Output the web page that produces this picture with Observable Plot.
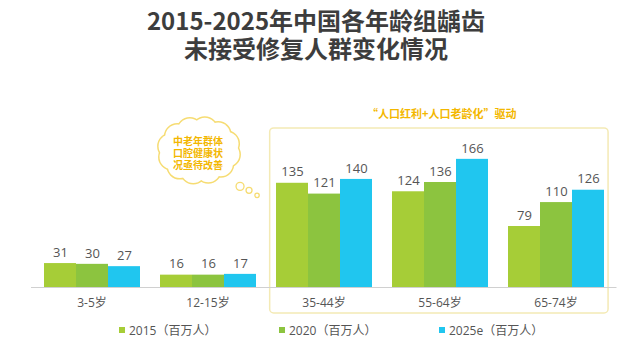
<!DOCTYPE html>
<html><head><meta charset="utf-8">
<script src="https://cdn.jsdelivr.net/npm/d3@7"></script>
<script src="https://cdn.jsdelivr.net/npm/@observablehq/plot@0.6"></script>
<style>
html,body{margin:0;padding:0;background:#fff;}
#wrap{position:relative;width:638px;height:360px;overflow:hidden;font-family:"Open Sans","Noto Sans CJK SC",sans-serif;}
.tl{position:absolute;left:0;width:632px;text-align:center;font-family:"Noto Sans CJK SC",sans-serif;font-weight:700;font-size:24px;line-height:26px;height:26px;color:#3d3d3d;}
#legend{position:absolute;top:321px;left:0;width:638px;height:16px;font-size:12px;color:#555;}
.li{position:absolute;top:0;display:flex;align-items:center;white-space:nowrap;}
.sw{width:6px;height:6px;margin-right:4px;}
#chart{position:absolute;left:0;top:0;}
</style></head>
<body><div id="wrap">
<div id="chart"></div>
<div class="tl" style="top:7px">2015-2025年中国各年龄组龋齿</div>
<div class="tl" style="top:35px">未接受修复人群变化情况</div>
<div id="legend"></div>
</div>
<script>
const categories = ["3-5岁","12-15岁","35-44岁","55-64岁","65-74岁"];
const seriesNames = ["2015（百万人）","2020（百万人）","2025e（百万人）"];
const v2015 = [31,16,135,124,79];
const v2020 = [30,16,121,136,110];
const v2025 = [27,17,140,166,126];
const colors = ["#a6cd37","#8cc43f","#20c6ef"];
const highlighted = ["35-44岁","55-64岁","65-74岁"];
const highlightLabel = "“人口红利+人口老龄化”驱动";
const cloudLines = ["中老年群体","口腔健康状","况亟待改善"];

const rows = [];
[v2015,v2020,v2025].forEach((arr,j)=>arr.forEach((v,i)=>rows.push({cat:categories[i],series:seriesNames[j],value:v})));

const W=638,H=360,mL=31,mR=21.5,mT=132.6,mB=73;
const chart = Plot.plot({
  width:W,height:H,marginLeft:mL,marginRight:mR,marginTop:mT,marginBottom:mB,
  style:{fontFamily:'"Open Sans","Noto Sans CJK SC",sans-serif',background:"transparent",color:"#555"},
  fx:{domain:categories,paddingInner:0.16,paddingOuter:0.085,axis:"bottom",label:null,tickSize:0,tickPadding:11,fontSize:12},
  x:{domain:seriesNames,padding:0,axis:null},
  y:{domain:[0,200],axis:null},
  color:{domain:seriesNames,range:colors},
  facet:{data:rows,x:"cat"},
  marks:[
    Plot.barY(rows,{x:"series",y:"value",fill:"series",inset:0}),
    Plot.text(rows,{x:"series",y:"value",text:d=>String(d.value),dy:-11,fontSize:13,fill:"#555"})
  ]
});
document.getElementById("chart").appendChild(chart);

d3.select(chart).selectAll("g[aria-label='fx-axis'] text, g[aria-label='fx-axis tick label'] text").attr("font-size",12).attr("fill","#555");

const fxs = chart.scale("fx");
const fxBand = d3.scaleBand(fxs.domain, fxs.range).paddingInner(fxs.paddingInner ?? 0.16).paddingOuter(fxs.paddingOuter ?? 0.085).align(fxs.align ?? 0.5);
const ys = chart.scale("y");
const yLin = d3.scaleLinear(ys.domain, ys.range);
const svg = d3.select(chart);
const deco = svg.insert("g",":first-child");
svg.append("line").attr("x1",fxs.range[0]).attr("x2",fxs.range[1]).attr("y1",yLin(0)+0.5).attr("y2",yLin(0)+0.5).attr("stroke","#d0d0d0").attr("stroke-width",1);
const bx1 = fxBand(highlighted[0]) - 5;
const bx2 = fxBand(highlighted[highlighted.length-1]) + fxBand.bandwidth() + 1.5;
const by1 = yLin(206);
deco.append("rect").attr("x",bx1).attr("y",by1).attr("width",bx2-bx1).attr("height",313-by1).attr("rx",4)
  .attr("fill","none").attr("stroke","#f4eab5").attr("stroke-width",1.5);
svg.append("text").attr("x",(bx1+bx2)/2+3).attr("y",by1-13).attr("text-anchor","middle").attr("dominant-baseline","middle")
  .attr("font-size",11).attr("font-weight",700).attr("fill","#f3b700").attr("font-family","Noto Sans CJK SC").text(highlightLabel);

// thought cloud
const cx = fxBand(categories[1]) + fxBand.bandwidth()*0.42, cy = yLin(177);
const cg = svg.append("g");
const lumps = d3.range(12).map(k=>{const a=k*Math.PI/6+0.2;return [cx+29*Math.cos(a), cy+21*Math.sin(a), 12];});
lumps.push([cx,cy,24],[cx-10,cy,22],[cx+10,cy,22]);
const bubbles=[[cx+41,cy+36,4],[cx+50,cy+40,3],[cx+58,cy+45,2.2]];
cg.selectAll("circle.o").data(lumps).join("circle").attr("cx",d=>d[0]).attr("cy",d=>d[1]).attr("r",d=>d[2])
  .attr("fill","none").attr("stroke","#f6dc72").attr("stroke-width",3);
cg.selectAll("circle.i").data(lumps).join("circle").attr("cx",d=>d[0]).attr("cy",d=>d[1]).attr("r",d=>d[2]).attr("fill","#fff");
cg.selectAll("circle.b").data(bubbles).join("circle").attr("cx",d=>d[0]).attr("cy",d=>d[1]).attr("r",d=>d[2])
  .attr("fill","#fff").attr("stroke","#f6dc72").attr("stroke-width",1.3);
const ct = cg.append("text").attr("text-anchor","middle").attr("font-size",10).attr("font-weight",700)
  .attr("fill","#f3b700").attr("font-family","Noto Sans CJK SC");
ct.selectAll("tspan").data(cloudLines).join("tspan").attr("x",cx-1).attr("y",(d,i)=>cy-5+i*11.6).text(d=>d);

const legendX=[119,279,439];
const lg=d3.select("#legend");
seriesNames.forEach((s,i)=>{
  const it=lg.append("div").attr("class","li").style("left",legendX[i]+"px");
  it.append("div").attr("class","sw").style("background",colors[i]);
  it.append("span").text(s);
});
</script>
</body></html>
